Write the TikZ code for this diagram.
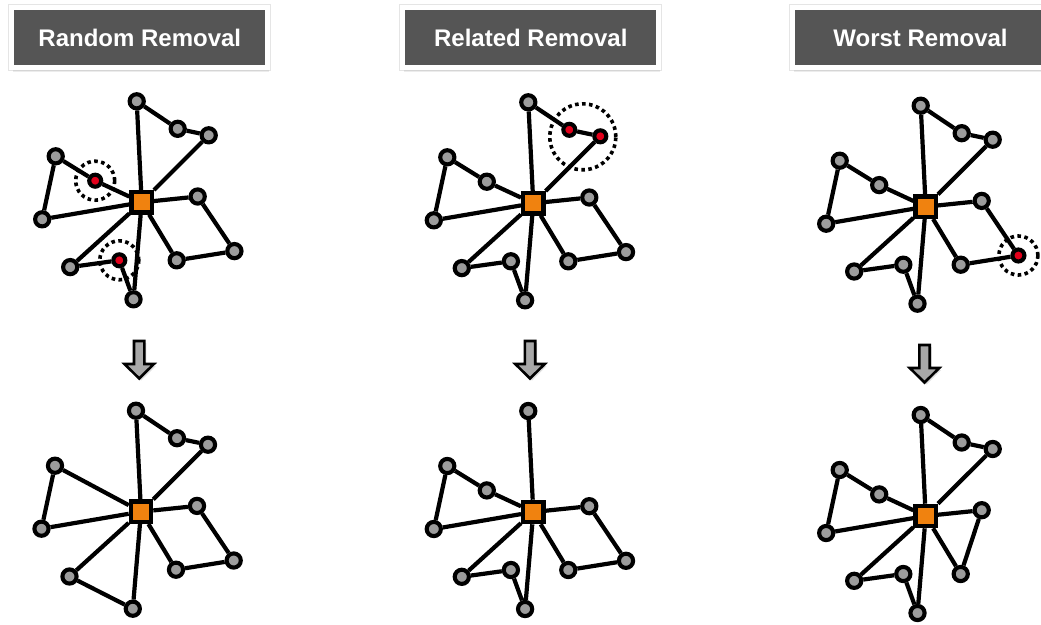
\documentclass[tikz,border=0pt]{standalone}
\usepackage{fontspec}
\newfontfamily\headfont{Liberation Sans}
\usetikzlibrary{shadows, backgrounds}

\definecolor{headgrey}{HTML}{555555}
\definecolor{custgrey}{HTML}{9C9C9C}
\definecolor{arrowgrey}{HTML}{A8A8A8}
\definecolor{gonered}{HTML}{E3001B}
\definecolor{depotorange}{HTML}{F0820F}

\tikzset{
  header/.style={draw=white, line width=5pt, fill=headgrey, text=white,
    font=\headfont\bfseries\fontsize{24}{28}\selectfont,
    minimum width=256pt, minimum height=60pt, inner sep=0pt,
    preaction={draw=black!10, line width=7pt},
    drop shadow={shadow xshift=1.5pt, shadow yshift=-4.5pt, opacity=0.15}},
  depot/.style={draw, line width=4.2pt, fill=depotorange, minimum size=20.4pt, inner sep=0pt},
  cust/.style={circle, draw, line width=4.1pt, fill=custgrey, minimum size=14.2pt, inner sep=0pt},
  gone/.style={cust, fill=gonered, minimum size=12pt},
  link/.style={line width=4.2pt},
  ring/.style={circle, draw, line width=3.6pt, dash pattern=on 3.6pt off 3.4pt,
    minimum size=39pt, inner sep=0pt},
  downarrow/.style={draw, line width=2.6pt, fill=arrowgrey, line join=miter,
    drop shadow={shadow xshift=2pt, shadow yshift=-2pt, opacity=0.25}},
  % customer positions around the depot
  spot a/.style={at={(-5,-101)}},
  spot b/.style={at={(36,-73.5)}},
  spot c/.style={at={(67,-67)}},
  spot d/.style={at={(-86,-46)}},
  spot e/.style={at={(-46.5,-21.6)}},
  spot f/.style={at={(-99.5,17)}},
  spot g/.style={at={(56,-5.8)}},
  spot h/.style={at={(92.7,48.8)}},
  spot i/.style={at={(35,58)}},
  spot j/.style={at={(-71.5,64.8)}},
  spot k/.style={at={(-22.4,58)}},
  spot l/.style={at={(-8.2,97)}}
}

\begin{document}
\begin{tikzpicture}[x=1pt, y=-1pt]
  \useasboundingbox (0,0) rectangle (1041,624);

  % headers
  \node[header] (random) at (139.8,37.5) {Random Removal};
  \node[header] (related) at (530.8,37.5) {Related Removal};
  \node[header] (worst) at (920.5,37.5) {Worst Removal};

  % arrows
  \foreach \x/\y in {139.2/341, 530/341, 924.5/345}
    \draw[downarrow, shift={(\x,\y)}] (-5.2,0) -- (5.2,0) -- (5.2,23) -- (14.7,23)
      -- (0,37.5) -- (-14.7,23) -- (-5.2,23) -- cycle;

  % random removal, before
  \begin{scope}[shift={(141.7,202.3)}, name prefix=rt-]
    \node[depot] (o) at (0,0) {};
    \foreach \n in {a,b,c,d,f,g,h,i,j,l} \node[cust, spot \n] (\n) {};
    \foreach \n in {e,k} \node[gone, spot \n] (\n) {};
    \begin{scope}[on background layer]
      \draw[link] (o) -- (a) -- (b) -- (c) -- (o) (o) -- (e) -- (d) -- (f) -- (o)
        (o) -- (g) -- (h) -- (i) -- (o) (o) -- (j) -- (k) -- (l) -- (o);
    \end{scope}
    \node[ring] (ring e) at (e) {};
    \node[ring] (ring k) at (k) {};
  \end{scope}

  % random removal, after
  \begin{scope}[shift={(141,511.7)}, name prefix=rb-]
    \node[depot] (o) at (0,0) {};
    \foreach \n in {a,b,c,d,f,g,h,i,j,l} \node[cust, spot \n] (\n) {};
    \begin{scope}[on background layer]
      \draw[link] (o) -- (a) -- (b) -- (c) -- (o) (o) -- (d) -- (f) -- (o)
        (o) -- (g) -- (h) -- (i) -- (o) (o) -- (j) -- (l) -- (o);
    \end{scope}
  \end{scope}

  % related removal, before
  \begin{scope}[shift={(533.3,203.3)}, name prefix=lt-]
    \node[depot] (o) at (0,0) {};
    \foreach \n in {a,d,e,f,g,h,i,j,k,l} \node[cust, spot \n] (\n) {};
    \foreach \n in {b,c} \node[gone, spot \n] (\n) {};
    \begin{scope}[on background layer]
      \draw[link] (o) -- (a) -- (b) -- (c) -- (o) (o) -- (e) -- (d) -- (f) -- (o)
        (o) -- (g) -- (h) -- (i) -- (o) (o) -- (j) -- (k) -- (l) -- (o);
    \end{scope}
    \node[ring, minimum size=66pt] (ring bc) at (49.5,-66.5) {};
  \end{scope}

  % related removal, after
  \begin{scope}[shift={(533.3,512)}, name prefix=lb-]
    \node[depot] (o) at (0,0) {};
    \foreach \n in {a,d,e,f,g,h,i,j,k,l} \node[cust, spot \n] (\n) {};
    \begin{scope}[on background layer]
      \draw[link] (o) -- (a) (o) -- (e) -- (d) -- (f) -- (o)
        (o) -- (g) -- (h) -- (i) -- (o) (o) -- (j) -- (k) -- (l) -- (o);
    \end{scope}
  \end{scope}

  % worst removal, before
  \begin{scope}[shift={(925.7,206.7)}, name prefix=wt-]
    \node[depot] (o) at (0,0) {};
    \foreach \n in {a,b,c,d,e,f,g,i,j,k,l} \node[cust, spot \n] (\n) {};
    \node[gone, spot h] (h) {};
    \begin{scope}[on background layer]
      \draw[link] (o) -- (a) -- (b) -- (c) -- (o) (o) -- (e) -- (d) -- (f) -- (o)
        (o) -- (g) -- (h) -- (i) -- (o) (o) -- (j) -- (k) -- (l) -- (o);
    \end{scope}
    \node[ring] (ring h) at (h) {};
  \end{scope}

  % worst removal, after
  \begin{scope}[shift={(925.7,516)}, name prefix=wb-]
    \node[depot] (o) at (0,0) {};
    \foreach \n in {a,b,c,d,e,f,g,i,j,k,l} \node[cust, spot \n] (\n) {};
    \begin{scope}[on background layer]
      \draw[link] (o) -- (a) -- (b) -- (c) -- (o) (o) -- (e) -- (d) -- (f) -- (o)
        (o) -- (g) -- (i) -- (o) (o) -- (j) -- (k) -- (l) -- (o);
    \end{scope}
  \end{scope}
\end{tikzpicture}
\end{document}
